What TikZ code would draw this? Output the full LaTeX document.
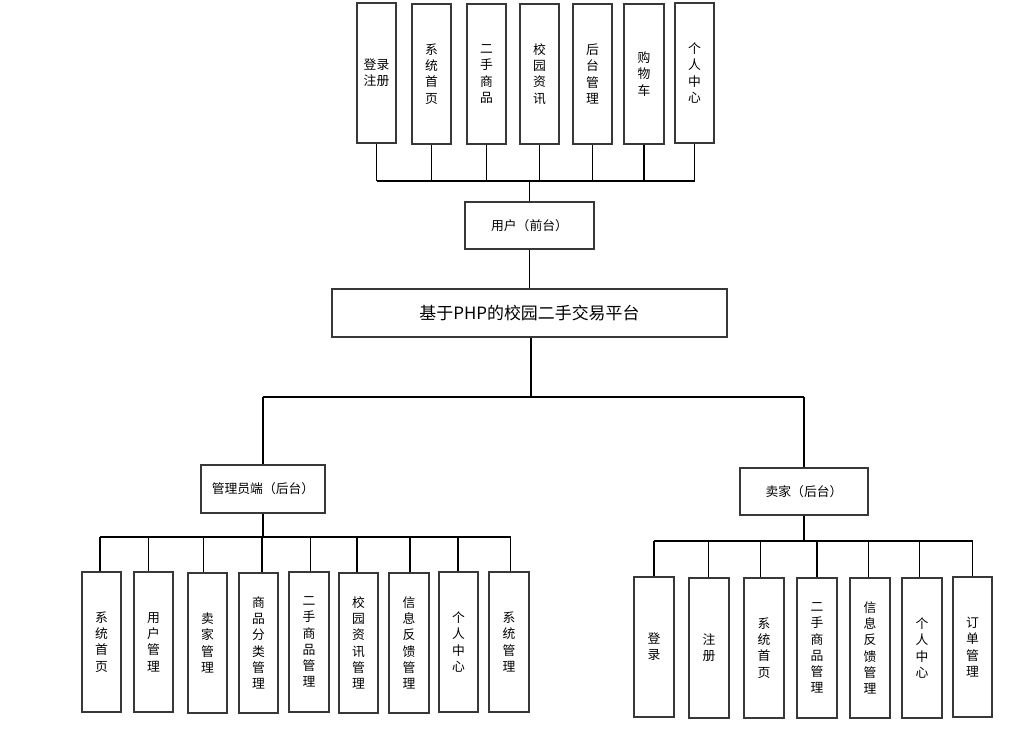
\documentclass[tikz,border=0pt]{standalone}
\usepackage{fontspec}
\newfontfamily\cjk{Noto Sans CJK SC}
\begin{document}
\begin{tikzpicture}[x=0.75pt,y=-0.75pt,
  sz/.style 2 args={minimum width=#1*0.75pt, minimum height=#2*0.75pt},
  box/.style={draw=black!78, line width=1.1pt, inner sep=0pt, align=center,
    font=\cjk\fontsize{9.6}{12.2}\selectfont},
  titlebox/.style={box, font=\cjk\fontsize{12.7}{14}\selectfont},
  conn/.style={draw=black, line width=0.8pt}]
\useasboundingbox (0,0) rectangle (1013,732);
% top row
\node[box, sz={39}{140}] (t1) at (376.5,73) {登录\\注册};
\node[box, sz={39}{140}] (t2) at (431.5,74) {系\\统\\首\\页};
\node[box, sz={39}{140}] (t3) at (486.5,74) {二\\手\\商\\品};
\node[box, sz={39}{140}] (t4) at (539.5,74) {校\\园\\资\\讯};
\node[box, sz={39}{140}] (t5) at (592.5,74) {后\\台\\管\\理};
\node[box, sz={40}{140}] (t6) at (644,74) {购\\物\\车};
\node[box, sz={39}{140}] (t7) at (694.5,73) {个\\人\\中\\心};
\node[box, sz={129}{47}] (user) at (529.5,225.5) {用户（前台）};
\node[titlebox, sz={395}{48}] (title) at (529.5,313) {基于PHP的校园二手交易平台};
\node[box, sz={124}{48}] (admin) at (263,489) {管理员端（后台）};
\node[box, sz={128}{47}] (seller) at (804,491.5) {卖家（后台）};
% admin children
\node[box, sz={39}{140}] (a1) at (101.5,642) {系\\统\\首\\页};
\node[box, sz={39}{140}] (a2) at (153.5,642) {用\\户\\管\\理};
\node[box, sz={39}{140}] (a3) at (207.5,643) {卖\\家\\管\\理};
\node[box, sz={39}{140}] (a4) at (258.5,643) {商\\品\\分\\类\\管\\理};
\node[box, sz={40}{140}] (a5) at (309,642) {二\\手\\商\\品\\管\\理};
\node[box, sz={39}{140}] (a6) at (358.5,643) {校\\园\\资\\讯\\管\\理};
\node[box, sz={40}{140}] (a7) at (409,643) {信\\息\\反\\馈\\管\\理};
\node[box, sz={39}{140}] (a8) at (458.5,642) {个\\人\\中\\心};
\node[box, sz={40}{140}] (a9) at (509,642) {系\\统\\管\\理};
% seller children
\node[box, sz={40}{140}] (s1) at (654,647) {登\\录};
\node[box, sz={40}{140}] (s2) at (709,648) {注\\册};
\node[box, sz={40}{140}] (s3) at (764,648) {系\\统\\首\\页};
\node[box, sz={40}{140}] (s4) at (817,648) {二\\手\\商\\品\\管\\理};
\node[box, sz={40}{140}] (s5) at (870,648) {信\\息\\反\\馈\\管\\理};
\node[box, sz={40}{140}] (s6) at (922,648) {个\\人\\中\\心};
\node[box, sz={39}{140}] (s7) at (972.5,647) {订\\单\\管\\理};
% bus coordinates
\coordinate (tbus) at (530,181);
\coordinate (mbus) at (531,397);
\coordinate (lbus) at (263,537);
\coordinate (rbus) at (804,541);
% top connectors
\foreach \n in {t1,t2,t3,t4,t5,t6,t7} \draw[conn] (\n.south) -- (\n.south |- tbus);
\draw[conn] (t1.south |- tbus) -- (t7.south |- tbus);
\draw[conn] (user.north) -- (user.north |- tbus);
\draw[conn] (user.south) -- (title.north);
% middle
\draw[conn, line width=1.2pt] (title.south -| mbus) -- (mbus);
\draw[conn] (admin.north |- mbus) -- (seller.north |- mbus);
\draw[conn] (admin.north |- mbus) -- (admin.north);
\draw[conn] (seller.north |- mbus) -- (seller.north);
% admin children
\draw[conn] (admin.south) -- (admin.south |- lbus);
\draw[conn] ([xshift=-1.5*0.75pt]a1.north |- lbus) -- ([xshift=1.7*0.75pt]a9.north |- lbus);
\foreach \n/\o in {a1/-1.5,a2/-5,a3/-4,a4/3.5,a5/1.7,a6/-1.5,a7/1,a8/-0.5,a9/1.7}
  \draw[conn] ([xshift=\o*0.75pt]\n.north |- lbus) -- ([xshift=\o*0.75pt]\n.north);
% seller children
\draw[conn] (seller.south) -- (seller.south |- rbus);
\draw[conn] (s1.north |- rbus) -- (s7.north |- rbus);
\foreach \n/\o in {s1/0,s2/-0.5,s3/-3.3,s4/0,s5/-1.5,s6/-2.7,s7/0}
  \draw[conn] ([xshift=\o*0.75pt]\n.north |- rbus) -- ([xshift=\o*0.75pt]\n.north);
\end{tikzpicture}
\end{document}
